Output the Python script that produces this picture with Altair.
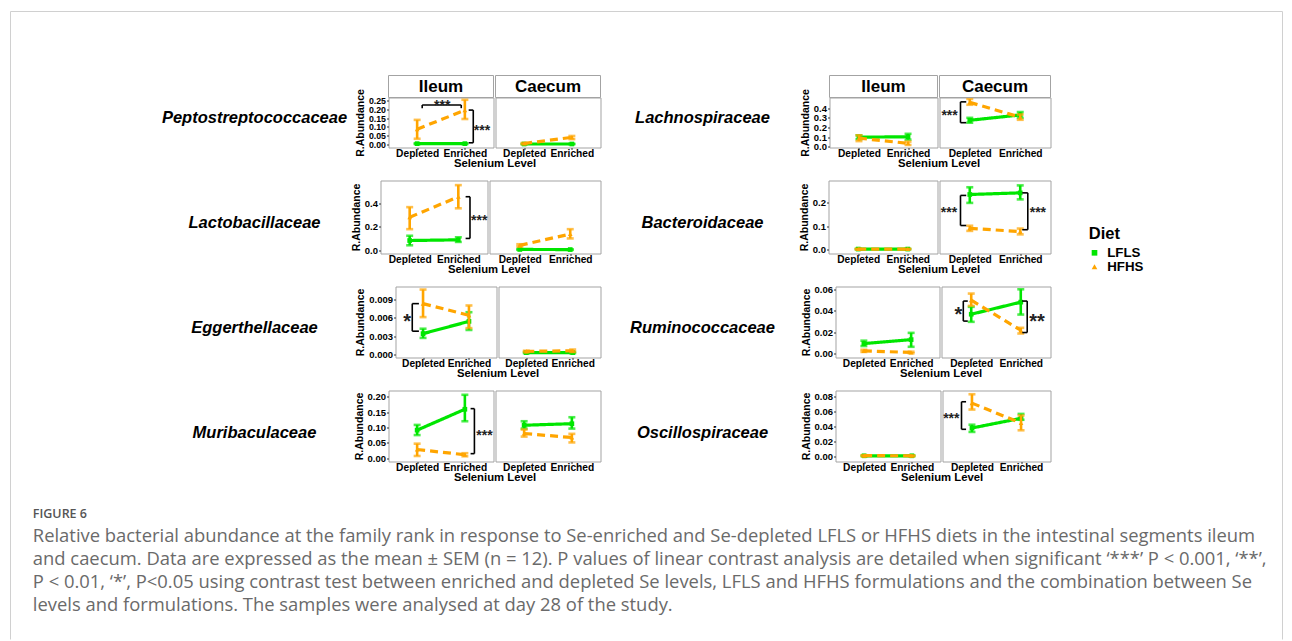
import altair as alt
import pandas as pd

# ---------------- categories ----------------
DIETS = ["LFLS", "HFHS"]
COLORS = ["#00E600", "#FFA500"]
SHAPES = ["square", "triangle-up"]
DASHES = [[1, 0], [8, 5]]
LEVEL_X = [1, 2]            # 1 = Depleted, 2 = Enriched
LEVEL_NAMES = ["Depleted", "Enriched"]

LEFT_FAMILIES = ["Peptostreptococcaceae", "Lactobacillaceae", "Eggerthellaceae", "Muribaculaceae"]
RIGHT_FAMILIES = ["Lachnospiraceae", "Bacteroidaceae", "Ruminococcaceae", "Oscillospiraceae"]

# ---------------- values: [mean, low, high] for Depleted, Enriched ----------------
# Peptostreptococcaceae
PEP_Y = [-0.018, 0.268]
PEP_TICKS = [0, 0.05, 0.10, 0.15, 0.20, 0.25]
PEP_IL_LFLS = [[0.004, 0.002, 0.006], [0.004, 0.002, 0.006]]
PEP_IL_HFHS = [[0.087, 0.032, 0.140], [0.195, 0.145, 0.255]]
PEP_CA_LFLS = [[0.002, 0.001, 0.003], [0.002, 0.001, 0.003]]
PEP_CA_HFHS = [[0.005, 0.002, 0.008], [0.040, 0.030, 0.048]]
PEP_IL_BRACKETS = [("h", 0.225, 0.207, 1.106, 1.924), ("v", 2.176, 2.08, 0.196, 0.009)]
PEP_IL_STARS = [(1.525, 0.240, "***", 14), (2.36, 0.100, "***", 14)]

# Lactobacillaceae
LAB_Y = [-0.03, 0.60]
LAB_TICKS = [0, 0.2, 0.4]
LAB_IL_LFLS = [[0.082, 0.041, 0.123], [0.088, 0.070, 0.110]]
LAB_IL_HFHS = [[0.283, 0.180, 0.370], [0.459, 0.360, 0.560]]
LAB_CA_LFLS = [[0.005, 0.002, 0.008], [0.004, 0.001, 0.006]]
LAB_CA_HFHS = [[0.040, 0.030, 0.050], [0.138, 0.100, 0.180]]
LAB_IL_BRACKETS = [("v", 2.24, 2.15, 0.46, 0.10)]
LAB_IL_STARS = [(2.43, 0.283, "***", 14)]

# Eggerthellaceae
EGG_Y = [-0.0005, 0.0111]
EGG_TICKS = [0, 0.003, 0.006, 0.009]
EGG_IL_LFLS = [[0.0034, 0.0027, 0.0042], [0.0054, 0.0040, 0.0069]]
EGG_IL_HFHS = [[0.0083, 0.0061, 0.0106], [0.0064, 0.0043, 0.0080]]
EGG_CA_LFLS = [[0.0003, 0.0002, 0.0004], [0.0003, 0.0002, 0.0004]]
EGG_CA_HFHS = [[0.0005, 0.0004, 0.0006], [0.0006, 0.0004, 0.0008]]
EGG_IL_BRACKETS = [("v", 0.765, 0.91, 0.0083, 0.0038)]
EGG_IL_STARS = [(0.656, 0.0060, "*", 20)]

# Muribaculaceae
MUR_Y = [-0.011, 0.22]
MUR_TICKS = [0, 0.05, 0.10, 0.15, 0.20]
MUR_IL_LFLS = [[0.091, 0.075, 0.108], [0.159, 0.120, 0.206]]
MUR_IL_HFHS = [[0.028, 0.007, 0.047], [0.011, 0.006, 0.016]]
MUR_CA_LFLS = [[0.107, 0.096, 0.120], [0.112, 0.096, 0.133]]
MUR_CA_HFHS = [[0.080, 0.070, 0.093], [0.067, 0.051, 0.079]]
MUR_IL_BRACKETS = [("v", 2.20, 2.12, 0.161, 0.0145)]
MUR_IL_STARS = [(2.41, 0.086, "***", 14)]

# Lachnospiraceae
LCH_Y = [-0.006, 0.51]
LCH_TICKS = [0, 0.1, 0.2, 0.3, 0.4]
LCH_IL_LFLS = [[0.100, 0.080, 0.120], [0.105, 0.075, 0.135]]
LCH_IL_HFHS = [[0.090, 0.060, 0.120], [0.037, 0.020, 0.055]]
LCH_CA_LFLS = [[0.275, 0.250, 0.300], [0.330, 0.300, 0.360]]
LCH_CA_HFHS = [[0.460, 0.435, 0.495], [0.307, 0.280, 0.335]]
LCH_CA_BRACKETS = [("v", 0.816, 0.93, 0.465, 0.25)]
LCH_CA_STARS = [(0.60, 0.36, "***", 14)]

# Bacteroidaceae
BAC_Y = [-0.017, 0.296]
BAC_TICKS = [0, 0.1, 0.2]
BAC_IL_LFLS = [[0.002, 0.001, 0.003], [0.002, 0.001, 0.003]]
BAC_IL_HFHS = [[0.002, 0.001, 0.003], [0.002, 0.001, 0.003]]
BAC_CA_LFLS = [[0.236, 0.200, 0.267], [0.243, 0.215, 0.275]]
BAC_CA_HFHS = [[0.091, 0.080, 0.102], [0.077, 0.065, 0.090]]
BAC_CA_BRACKETS = [("v", 0.816, 0.93, 0.232, 0.103), ("v", 2.15, 2.04, 0.243, 0.085)]
BAC_CA_STARS = [(0.587, 0.175, "***", 14), (2.35, 0.175, "***", 14)]

# Ruminococcaceae
RUM_Y = [-0.0037, 0.0626]
RUM_TICKS = [0, 0.02, 0.04, 0.06]
RUM_IL_LFLS = [[0.0093, 0.0070, 0.0120], [0.0130, 0.0063, 0.0193]]
RUM_IL_HFHS = [[0.0025, 0.0015, 0.0035], [0.0010, 0.0003, 0.0017]]
RUM_CA_LFLS = [[0.0367, 0.0296, 0.0436], [0.0480, 0.0364, 0.0600]]
RUM_CA_HFHS = [[0.0498, 0.0445, 0.0560], [0.0218, 0.0187, 0.0240]]
RUM_CA_BRACKETS = [("v", 0.84, 0.93, 0.049, 0.0303), ("v", 2.13, 2.03, 0.049, 0.0196)]
RUM_CA_STARS = [(0.74, 0.0395, "*", 20), (2.33, 0.0333, "**", 20)]

# Oscillospiraceae
OSC_Y = [-0.0066, 0.088]
OSC_TICKS = [0, 0.02, 0.04, 0.06, 0.08]
OSC_IL_LFLS = [[0.0010, 0.0005, 0.0015], [0.0010, 0.0005, 0.0015]]
OSC_IL_HFHS = [[0.0012, 0.0006, 0.0018], [0.0010, 0.0005, 0.0015]]
OSC_CA_LFLS = [[0.0380, 0.0328, 0.0424], [0.0510, 0.0490, 0.0568]]
OSC_CA_HFHS = [[0.0712, 0.0626, 0.0830], [0.0446, 0.0350, 0.0547]]
OSC_CA_BRACKETS = [("v", 0.787, 0.88, 0.073, 0.0363)]
OSC_CA_STARS = [(0.58, 0.056, "***", 14)]

CAPTION_TITLE = "FIGURE 6"
CAPTION_LINES = [
    "Relative bacterial abundance at the family rank in response to Se-enriched and Se-depleted LFLS or HFHS diets in the intestinal segments ileum",
    "and caecum. Data are expressed as the mean \u00b1 SEM (n = 12). P values of linear contrast analysis are detailed when significant \u2018***\u2019 P < 0.001, \u2018**\u2019,",
    "P < 0.01, \u2018*\u2019, P<0.05 using contrast test between enriched and depleted Se levels, LFLS and HFHS formulations and the combination between Se",
    "levels and formulations. The samples were analysed at day 28 of the study.",
]

# ---------------- styling ----------------
FONT = "Liberation Sans"
BORDER = "#a3a3a3"
FRAME = "#d0d0d0"

color_enc = alt.Color("Diet:N", scale=alt.Scale(domain=DIETS, range=COLORS), legend=None)
shape_enc = alt.Shape("Diet:N", scale=alt.Scale(domain=DIETS, range=SHAPES), legend=None)
ONE = pd.DataFrame({"k": [0]})

ANCHOR_TOP = 24      # invisible extent above each row's plot area
ANCHOR_BOTTOM = 26   # invisible extent below each row's plot area


def series_frame(lfls, hfhs):
    rows = []
    for diet, vals in zip(DIETS, (lfls, hfhs)):
        for lvl, (m, lo, hi) in zip(LEVEL_X, vals):
            rows.append({"Diet": diet, "x": lvl, "mean": m, "lo": lo, "hi": hi})
    return pd.DataFrame(rows)


def bracket_frame(brackets):
    rows = []
    for kind, pos, tip, a, b in brackets:
        if kind == "v":
            rows += [{"x": pos, "x2": pos, "y": a, "y2": b},
                     {"x": pos, "x2": tip, "y": a, "y2": a},
                     {"x": pos, "x2": tip, "y": b, "y2": b}]
        else:
            rows += [{"x": a, "x2": b, "y": pos, "y2": pos},
                     {"x": a, "x2": a, "y": pos, "y2": tip},
                     {"x": b, "x2": b, "y": pos, "y2": tip}]
    return pd.DataFrame(rows)


def panel(lfls, hfhs, ydom, yticks, yfmt, w, h, show_y, header=None,
          brackets=(), stars=(), xtitle=False, ylab=9.5):
    df = series_frame(lfls, hfhs)
    xs = alt.Scale(domain=[0.4, 2.6], nice=False, zero=False)
    ys = alt.Scale(domain=ydom, nice=False, zero=False)
    label_expr = "datum.value == 1 ? '%s' : '%s'" % tuple(LEVEL_NAMES)
    if xtitle:
        xaxis = alt.Axis(values=LEVEL_X, labelExpr=label_expr, title="Selenium Level",
                         titleX=w + 1, titleY=15.5, titleBaseline="middle", titleAlign="center",
                         titleFontSize=11.3, labelFontSize=10.2, tickSize=2, labelPadding=-1,
                         labelFlush=False, labelOverlap=False)
    else:
        xaxis = alt.Axis(values=LEVEL_X, labelExpr=label_expr, title=None,
                         labelFontSize=10.2, tickSize=2, labelPadding=-1,
                         labelFlush=False, labelOverlap=False)
    if show_y:
        yaxis = alt.Axis(values=yticks, format=yfmt, title="R.Abundance", titleFontSize=10.5,
                         labelFontSize=ylab, tickSize=2, labelPadding=1, titlePadding=3,
                         labelOverlap=False, labelFlush=False)
    else:
        yaxis = None

    def X(f):
        return alt.X(f, scale=xs, axis=xaxis)

    def Y(f):
        return alt.Y(f, scale=ys, axis=yaxis)

    layers = []
    for diet, dash in zip(DIETS, DASHES):
        base = alt.Chart(df).transform_filter(alt.datum.Diet == diet)
        layers.append(base.mark_line(strokeWidth=3.2, strokeDash=dash).encode(
            x=X("x:Q"), y=Y("mean:Q"), color=color_enc))
        layers.append(base.mark_rule(strokeWidth=2.6).encode(
            x=X("x:Q"), y=Y("lo:Q"), y2=alt.Y2("hi:Q"), color=color_enc))
        layers.append(base.mark_tick(orient="horizontal", size=7, thickness=2.6).encode(
            x=X("x:Q"), y=Y("lo:Q"), color=color_enc))
        layers.append(base.mark_tick(orient="horizontal", size=7, thickness=2.6).encode(
            x=X("x:Q"), y=Y("hi:Q"), color=color_enc))
        layers.append(base.mark_point(filled=True, size=22, opacity=1).encode(
            x=X("x:Q"), y=Y("mean:Q"), color=color_enc, shape=shape_enc))
    if brackets:
        bdf = bracket_frame(brackets)
        layers.append(alt.Chart(bdf).mark_rule(color="black", strokeWidth=1.6).encode(
            x=X("x:Q"), x2=alt.X2("x2:Q"), y=Y("y:Q"), y2=alt.Y2("y2:Q")))
    if stars:
        sdf = pd.DataFrame(stars, columns=["x", "y", "t", "s"])
        layers.append(alt.Chart(sdf).mark_text(font=FONT, color="#222", fontWeight="bold",
                                              baseline="middle", dy=4).encode(
            x=X("x:Q"), y=Y("y:Q"), text="t:N", size=alt.Size("s:Q", scale=None, legend=None)))
    if header:
        hd = alt.Chart(pd.DataFrame({"t": [header]}))
        layers.append(hd.mark_rect(fill="white", stroke=BORDER, strokeWidth=1).encode(
            x=alt.value(0), x2=alt.value(w), y=alt.value(-22), y2=alt.value(0)))
        layers.append(hd.mark_text(font=FONT, fontSize=17, fontWeight="bold", color="black",
                                   baseline="middle").encode(
            text="t:N", x=alt.value(w / 2), y=alt.value(-11)))
    return alt.layer(*layers).properties(
        width=w, height=h, view=alt.ViewBackground(stroke=BORDER, strokeWidth=1))


def label_cell(name, w, h, lx, ly, anchor=False):
    lbl = alt.Chart(pd.DataFrame({"t": [name]})).mark_text(
        font=FONT, fontSize=16.5, fontWeight="bold", fontStyle="italic", color="black",
        align="center", baseline="middle").encode(text="t:N", x=alt.value(lx), y=alt.value(ly))
    layers = [lbl]
    if anchor:
        # invisible rule fixing the vertical extent of the row
        layers.append(alt.Chart(ONE).mark_rule(strokeOpacity=0, strokeWidth=1).encode(
            x=alt.value(1), y=alt.value(-ANCHOR_TOP), y2=alt.value(h + ANCHOR_BOTTOM)))
    return alt.layer(*layers).properties(width=w, height=h)


# frame + caption chart (origin at the frame's top-left corner)
FRAME_W, FRAME_H = 1272, 628
frame_chart = alt.layer(
    alt.Chart(ONE).mark_rule(color=FRAME, strokeWidth=1).encode(
        x=alt.value(0), y=alt.value(0), y2=alt.value(FRAME_H)),
    alt.Chart(ONE).mark_rule(color=FRAME, strokeWidth=1).encode(
        x=alt.value(0), x2=alt.value(FRAME_W), y=alt.value(0)),
    alt.Chart(ONE).mark_rule(color=FRAME, strokeWidth=1).encode(
        x=alt.value(FRAME_W), y=alt.value(0), y2=alt.value(FRAME_H)),
    alt.Chart(ONE).mark_text(text=CAPTION_TITLE, align="left", baseline="middle", font="Open Sans",
                             fontSize=12.5, fontWeight=600, color="#555555").encode(
        x=alt.value(22.3), y=alt.value(502)),
    alt.Chart(ONE).mark_text(text=CAPTION_LINES, align="left", baseline="middle", font="Open Sans",
                             fontSize=18.4, lineHeight=23, color="#6a6a6a").encode(
        x=alt.value(22.3), y=alt.value(524)),
).properties(width=FRAME_W, height=FRAME_H)

# legend cell (row 2)
leg_df = pd.DataFrame({"Diet": DIETS})
leg_y = alt.Y("Diet:N", sort=DIETS, scale=alt.Scale(type="point", domain=DIETS, range=[72.3, 86.3], padding=0), axis=None)
legend_cell = alt.layer(
    alt.Chart(pd.DataFrame({"t": ["Diet"]})).mark_text(
        font=FONT, fontSize=16.5, fontWeight="bold", color="black", align="left", baseline="middle").encode(
        text="t:N", x=alt.value(36.3), y=alt.value(53.5)),
    alt.Chart(leg_df).mark_point(filled=True, size=32, opacity=1).encode(
        x=alt.value(42), y=leg_y, color=color_enc, shape=shape_enc),
    alt.Chart(leg_df).mark_text(font=FONT, fontSize=13.3, fontWeight="bold", color="black",
                                align="left", baseline="middle").encode(
        x=alt.value(54.7), y=leg_y, text="Diet:N"),
).properties(width=60, height=73)

# ---------------- layout (pixel sizes per row) ----------------
ROW_H = [50, 73, 71, 71]
LEFT_X = [388, 380, 395, 388]
LEFT_W = [(105, 105), (107, 111), (101, 102), (105, 105)]
RIGHT_X = [829, 828, 835, 835]
RIGHT_W = [(108, 111), (109, 111), (104, 109), (105, 108)]
LABEL_Y = [20, 42, 41, 42]

left_data = [
    (PEP_IL_LFLS, PEP_IL_HFHS, PEP_CA_LFLS, PEP_CA_HFHS, PEP_Y, PEP_TICKS, ".2f", PEP_IL_BRACKETS, PEP_IL_STARS, (), (), 8.8),
    (LAB_IL_LFLS, LAB_IL_HFHS, LAB_CA_LFLS, LAB_CA_HFHS, LAB_Y, LAB_TICKS, ".1f", LAB_IL_BRACKETS, LAB_IL_STARS, (), (), 9.5),
    (EGG_IL_LFLS, EGG_IL_HFHS, EGG_CA_LFLS, EGG_CA_HFHS, EGG_Y, EGG_TICKS, ".3f", EGG_IL_BRACKETS, EGG_IL_STARS, (), (), 9.5),
    (MUR_IL_LFLS, MUR_IL_HFHS, MUR_CA_LFLS, MUR_CA_HFHS, MUR_Y, MUR_TICKS, ".2f", MUR_IL_BRACKETS, MUR_IL_STARS, (), (), 9.5),
]
right_data = [
    (LCH_IL_LFLS, LCH_IL_HFHS, LCH_CA_LFLS, LCH_CA_HFHS, LCH_Y, LCH_TICKS, ".1f", (), (), LCH_CA_BRACKETS, LCH_CA_STARS, 9.5),
    (BAC_IL_LFLS, BAC_IL_HFHS, BAC_CA_LFLS, BAC_CA_HFHS, BAC_Y, BAC_TICKS, ".1f", (), (), BAC_CA_BRACKETS, BAC_CA_STARS, 9.5),
    (RUM_IL_LFLS, RUM_IL_HFHS, RUM_CA_LFLS, RUM_CA_HFHS, RUM_Y, RUM_TICKS, ".2f", (), (), RUM_CA_BRACKETS, RUM_CA_STARS, 9.5),
    (OSC_IL_LFLS, OSC_IL_HFHS, OSC_CA_LFLS, OSC_CA_HFHS, OSC_Y, OSC_TICKS, ".2f", (), (), OSC_CA_BRACKETS, OSC_CA_STARS, 9.5),
]

rows = []
for r in range(4):
    h = ROW_H[r]
    hdr = r == 0

    def pair(d, w_pair):
        il_l, il_h, ca_l, ca_h, ydom, ticks, fmt, ib, istars, cb, cstars, ylab = d
        il = panel(il_l, il_h, ydom, ticks, fmt, w_pair[0], h, True, header="Ileum" if hdr else None,
                   brackets=ib, stars=istars, xtitle=True, ylab=ylab)
        ca = panel(ca_l, ca_h, ydom, ticks, fmt, w_pair[1], h, False, header="Caecum" if hdr else None,
                   brackets=cb, stars=cstars)
        return il, ca

    il_left, ca_left = pair(left_data[r], LEFT_W[r])
    il_right, ca_right = pair(right_data[r], RIGHT_W[r])
    cells = [
        label_cell(LEFT_FAMILIES[r], LEFT_X[r] - 12, h, 244, LABEL_Y[r], anchor=True),
        il_left, ca_left,
        label_cell(RIGHT_FAMILIES[r], RIGHT_X[r] - 604, h, 100, LABEL_Y[r]),
        il_right, ca_right,
    ]
    if r == 1:
        cells.append(legend_cell)
    rows.append(alt.hconcat(*cells, spacing=2, bounds="flush"))

# rows stacked by their (anchored) full extents
content = alt.vconcat(*rows, spacing=-17, bounds="full")

chart = alt.concat(
    frame_chart, content, columns=1, spacing=-542, bounds="flush", align="none"
).properties(
    padding={"left": 9.5, "top": 10.5, "right": 0, "bottom": 0}, background="white"
).configure(
    font=FONT
).configure_view(
    stroke=None
).configure_axis(
    labelFont=FONT, titleFont=FONT, labelFontWeight="bold", titleFontWeight="bold",
    labelColor="black", titleColor="black", tickColor="#333333", tickWidth=1,
    domain=False, grid=False
)

chart.save("out.html", embed_options={"renderer": "svg", "actions": False})
